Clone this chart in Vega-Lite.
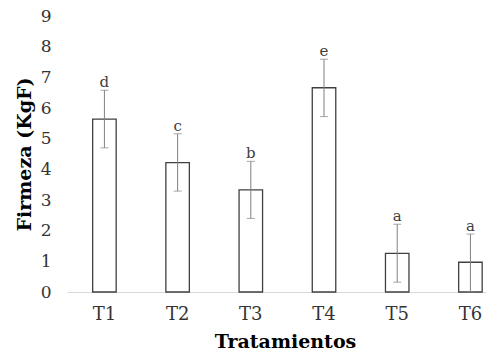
{
  "$schema": "https://vega.github.io/schema/vega-lite/v6.json",
  "width": 419,
  "height": 276,
  "autosize": {"type": "none"},
  "padding": {"left": 67, "top": 16, "right": 12, "bottom": 64},
  "background": "white",
  "config": {
    "view": {"stroke": null},
    "font": "DejaVu Serif",
    "axis": {"labelOverlap": false, "labelSeparation": 0},
    "axisQuantitative": {"labelOverlap": false, "tickCount": 10},
    "axisLeft": {"labelOverlap": false, "labelSeparation": 0},
    "axisY": {"labelOverlap": false, "tickCount": 10}
  },
  "data": {
    "values": [
      {"trat": "T1", "mean": 5.64, "lo": 4.70, "hi": 6.58, "letra": "d"},
      {"trat": "T2", "mean": 4.22, "lo": 3.29, "hi": 5.16, "letra": "c"},
      {"trat": "T3", "mean": 3.33, "lo": 2.40, "hi": 4.26, "letra": "b"},
      {"trat": "T4", "mean": 6.66, "lo": 5.72, "hi": 7.59, "letra": "e"},
      {"trat": "T5", "mean": 1.26, "lo": 0.32, "hi": 2.21, "letra": "a"},
      {"trat": "T6", "mean": 0.97, "lo": 0.01, "hi": 1.89, "letra": "a"}
    ]
  },
  "encoding": {
    "x": {
      "field": "trat",
      "type": "nominal",
      "sort": null,
      "scale": {"paddingInner": 0.679, "paddingOuter": 0.2015, "align": 0.87},
      "axis": {
        "title": "Tratamientos",
        "titleFont": "DejaVu Serif",
        "titleFontWeight": "bold",
        "titleFontSize": 19,
        "titleColor": "#000000",
        "titleX": 218,
        "titleY": 55,
        "titleBaseline": "alphabetic",
        "titleAlign": "center",
        "labelAngle": 0,
        "labelFont": "DejaVu Serif",
        "labelFontSize": 18,
        "labelColor": "#333333",
        "labelPadding": 13,
        "ticks": false,
        "domainColor": "#d9d9d9",
        "domainWidth": 1
      }
    }
  },
  "layer": [
    {
      "mark": {"type": "bar", "fill": "white", "stroke": "#404040", "strokeWidth": 1.3},
      "encoding": {
        "y": {
          "field": "mean",
          "type": "quantitative",
          "scale": {"domain": [0, 9], "nice": false},
          "axis": {
            "title": "Firmeza (KgF)",
            "values": [0, 1, 2, 3, 4, 5, 6, 7, 8, 9],
            "tickCount": 10,
            "labelOverlap": false,
            "labelSeparation": 0,
            "labelBound": false,
            "titleFont": "DejaVu Serif",
            "titleFontWeight": "bold",
            "titleFontSize": 19,
            "titleColor": "#000000",
            "titleY": 138,
            "titleX": -37,
            "titleAngle": -90,
            "titleAlign": "center",
            "titleBaseline": "alphabetic",
            "labelFont": "DejaVu Serif",
            "labelFontSize": 17,
            "labelColor": "#333333",
            "labelPadding": 16,
            "ticks": false,
            "domain": false,
            "grid": false
          }
        }
      }
    },
    {
      "mark": {"type": "rule", "stroke": "#808080", "strokeWidth": 1},
      "encoding": {
        "y": {"field": "lo", "type": "quantitative"},
        "y2": {"field": "hi"}
      }
    },
    {
      "mark": {"type": "tick", "color": "#808080", "size": 8, "thickness": 1},
      "encoding": {"y": {"field": "lo", "type": "quantitative"}}
    },
    {
      "mark": {"type": "tick", "color": "#808080", "size": 8, "thickness": 1},
      "encoding": {"y": {"field": "hi", "type": "quantitative"}}
    },
    {
      "mark": {"type": "text", "baseline": "alphabetic", "dy": -3, "font": "DejaVu Serif", "fontSize": 15, "color": "#404040"},
      "encoding": {
        "y": {"field": "hi", "type": "quantitative"},
        "text": {"field": "letra"}
      }
    }
  ]
}
